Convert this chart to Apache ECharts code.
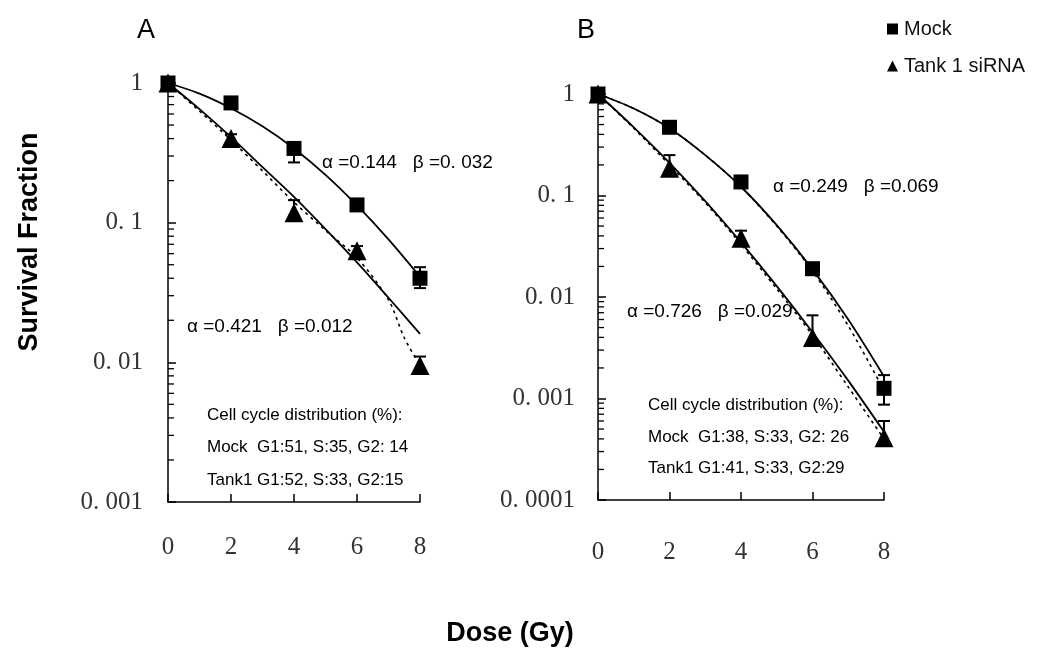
<!DOCTYPE html>
<html>
<head>
<meta charset="utf-8">
<title>Survival Fraction</title>
<script src="https://cdn.jsdelivr.net/npm/echarts@6/dist/echarts.min.js"></script>
<style>
  html, body { margin: 0; padding: 0; background: #fff; }
  #chart { width: 1039px; height: 649px; }
</style>
</head>
<body>
<div id="chart"></div>
<script>
// measured points (dose in Gy, survival fraction)
var doses = [0, 2, 4, 6, 8];
var mockA = [1.0, 0.72, 0.34, 0.134, 0.040];
var tankA = [1.0, 0.40, 0.118, 0.063, 0.0095];
var mockB = [1.0, 0.47, 0.136, 0.019, 0.00126];
var tankB = [1.0, 0.186, 0.038, 0.0040, 0.00041];

// error bars: [dose, low, high]
var mockErrA = [[2, 0.68, 0.76], [4, 0.27, 0.36], [6, 0.125, 0.145], [8, 0.034, 0.048]];
var tankErrA = [[2, 0.37, 0.43], [4, 0.105, 0.145], [6, 0.058, 0.068], [8, 0.009, 0.011]];
var mockErrB = [[4, 0.12, 0.145], [6, 0.017, 0.021], [8, 0.00087, 0.0017]];
var tankErrB = [[2, 0.16, 0.25], [4, 0.033, 0.045], [6, 0.0036, 0.0066], [8, 0.00036, 0.0006]];

// fitted curves
var fitDoses = [0, 1, 2, 3, 4, 5, 6, 7, 8];
var mockFitA = [1, 0.84, 0.66, 0.49, 0.34, 0.22, 0.133, 0.076, 0.041];
var tankFitA = [1, 0.65, 0.41, 0.25, 0.153, 0.09, 0.052, 0.029, 0.016];
var tankDashDosesA = [0, 1, 2, 3, 4, 5, 6, 7, 7.5, 8];
var tankDashA = [1, 0.63, 0.39, 0.235, 0.14, 0.088, 0.056, 0.028, 0.015, 0.0095];
var mockFitB = [1, 0.72, 0.46, 0.25, 0.122, 0.051, 0.0187, 0.006, 0.00165];
var mockDashB = [1, 0.72, 0.46, 0.25, 0.122, 0.05, 0.018, 0.0052, 0.0012];
var tankFitB = [1, 0.47, 0.21, 0.088, 0.0345, 0.0128, 0.0045, 0.0015, 0.00047];
var tankDashB = [1, 0.46, 0.2, 0.085, 0.033, 0.012, 0.0042, 0.0013, 0.0004];

// tick labels
var xTicks = [0, 2, 4, 6, 8];
var yLabelValues = [1, 0.1, 0.01, 0.001, 0.0001];
var yLabelTexts = ['1', '0. 1', '0. 01', '0. 001', '0. 0001'];

var serif = '"Liberation Serif", "DejaVu Serif", serif';
var sans = '"Liberation Sans", Arial, sans-serif';

function pairs(xs, ys) {
  var out = [];
  for (var i = 0; i < xs.length; i++) out.push([xs[i], ys[i]]);
  return out;
}

// log-spaced minor ticks 2..9 in each decade
function minorTicks(lowExp, highExp) {
  var out = [];
  for (var e = lowExp; e < highExp; e++) {
    for (var k = 2; k <= 9; k++) out.push([0, +(k * Math.pow(10, e)).toPrecision(3)]);
  }
  return out;
}

function yLabel(v) {
  for (var i = 0; i < yLabelValues.length; i++) {
    if (Math.abs(Math.log10(v) - Math.log10(yLabelValues[i])) < 1e-6) return yLabelTexts[i];
  }
  return '';
}

function xAxisFor(idx, margin) {
  return {
    type: 'value', gridIndex: idx, min: 0, max: 8, interval: 2,
    axisLine: { lineStyle: { color: '#000', width: 1.5 } },
    axisTick: { inside: true, length: 8, lineStyle: { color: '#000', width: 1.5 } },
    splitLine: { show: false },
    axisLabel: { margin: margin, fontFamily: serif, fontSize: 25, color: '#333',
      formatter: function (v) { return xTicks.indexOf(v) >= 0 ? String(v) : ''; } }
  };
}

function yAxisFor(idx, min, margin) {
  return {
    type: 'log', logBase: 10, gridIndex: idx, min: min, max: 1,
    axisLine: { lineStyle: { color: '#000', width: 1.5 } },
    axisTick: { inside: true, length: 8, lineStyle: { color: '#000', width: 1.5 } },
    splitLine: { show: false },
    axisLabel: { margin: margin, fontFamily: serif, fontSize: 25, color: '#333', formatter: yLabel }
  };
}

function fitLine(idx, xs, ys, dashed) {
  return {
    type: 'line', xAxisIndex: idx, yAxisIndex: idx, data: pairs(xs, ys),
    smooth: 0.3, showSymbol: false, silent: true, z: 2,
    lineStyle: { color: '#000', width: dashed ? 1.6 : 1.8, type: dashed ? [3, 4] : 'solid' }
  };
}

function errorBars(idx, data) {
  return {
    type: 'custom', xAxisIndex: idx, yAxisIndex: idx, data: data, clip: false, silent: true, z: 3,
    renderItem: function (params, api) {
      var lo = api.coord([api.value(0), api.value(1)]);
      var hi = api.coord([api.value(0), api.value(2)]);
      var w = 6;
      var st = { stroke: '#000', lineWidth: 2 };
      return { type: 'group', children: [
        { type: 'line', shape: { x1: lo[0], y1: lo[1], x2: hi[0], y2: hi[1] }, style: st },
        { type: 'line', shape: { x1: lo[0] - w, y1: lo[1], x2: lo[0] + w, y2: lo[1] }, style: st },
        { type: 'line', shape: { x1: hi[0] - w, y1: hi[1], x2: hi[0] + w, y2: hi[1] }, style: st }
      ] };
    }
  };
}

function minorTickSeries(idx, data) {
  return {
    type: 'custom', xAxisIndex: idx, yAxisIndex: idx, data: data, clip: false, silent: true, z: 1,
    renderItem: function (params, api) {
      var p = api.coord([api.value(0), api.value(1)]);
      return { type: 'line', shape: { x1: p[0], y1: p[1], x2: p[0] + 6, y2: p[1] },
        style: { stroke: '#000', lineWidth: 1.3 } };
    }
  };
}

function points(idx, name, ys, symbol, size) {
  return {
    type: 'scatter', name: name, xAxisIndex: idx, yAxisIndex: idx, data: pairs(doses, ys),
    symbol: symbol, symbolSize: size, itemStyle: { color: '#000', opacity: 1 }, z: 5
  };
}

function txt(x, y, text, font, align) {
  return { type: 'text', x: x, y: y, silent: true,
    style: { text: text, font: font, fill: '#000', textAlign: align || 'left', textVerticalAlign: 'middle' } };
}

var chart = echarts.init(document.getElementById('chart'), null, { renderer: 'canvas' });

var option = {
  backgroundColor: '#fff',
  animation: false,
  grid: [
    { left: 168, top: 83, width: 252, height: 419 },
    { left: 598, top: 94, width: 286, height: 406 }
  ],
  xAxis: [xAxisFor(0, 33), xAxisFor(1, 40)],
  yAxis: [yAxisFor(0, 0.001, 25), yAxisFor(1, 0.0001, 23)],
  legend: {
    orient: 'vertical', left: 882, top: 14, itemGap: 17, itemWidth: 11, itemHeight: 11,
    data: [
      { name: 'Mock', icon: 'rect', itemStyle: { color: '#000', opacity: 1 } },
      { name: 'Tank 1 siRNA', icon: 'triangle', itemStyle: { color: '#000', opacity: 1 } }
    ],
    textStyle: { fontFamily: sans, fontSize: 20, color: '#111', padding: [0, 0, 0, 1] }
  },
  series: [
    minorTickSeries(0, minorTicks(-3, 0)),
    minorTickSeries(1, minorTicks(-4, 0)),
    fitLine(0, fitDoses, mockFitA, false),
    fitLine(0, fitDoses, tankFitA, false),
    fitLine(0, tankDashDosesA, tankDashA, true),
    fitLine(1, fitDoses, mockFitB, false),
    fitLine(1, fitDoses, mockDashB, true),
    fitLine(1, fitDoses, tankFitB, false),
    fitLine(1, fitDoses, tankDashB, true),
    errorBars(0, mockErrA),
    errorBars(0, tankErrA),
    errorBars(1, mockErrB),
    errorBars(1, tankErrB),
    points(0, 'Mock', mockA, 'rect', 15),
    points(0, 'Tank 1 siRNA', tankA, 'triangle', 19),
    points(1, 'Mock', mockB, 'rect', 15),
    points(1, 'Tank 1 siRNA', tankB, 'triangle', 19)
  ],
  graphic: [
    txt(137, 31, 'A', '27px ' + sans),
    txt(577, 31, 'B', '27px ' + sans),
    txt(322, 163, 'α =0.144   β =0. 032', '19px ' + sans),
    txt(187, 327, 'α =0.421   β =0.012', '19px ' + sans),
    txt(207, 415, 'Cell cycle distribution (%):', '17px ' + sans),
    txt(207, 447, 'Mock  G1:51, S:35, G2: 14', '17px ' + sans),
    txt(207, 480, 'Tank1 G1:52, S:33, G2:15', '17px ' + sans),
    txt(773, 187, 'α =0.249   β =0.069', '19px ' + sans),
    txt(627, 312, 'α =0.726   β =0.029', '19px ' + sans),
    txt(648, 405, 'Cell cycle distribution (%):', '17px ' + sans),
    txt(648, 437, 'Mock  G1:38, S:33, G2: 26', '17px ' + sans),
    txt(648, 468, 'Tank1 G1:41, S:33, G2:29', '17px ' + sans),
    { type: 'text', x: 30, y: 242, rotation: Math.PI / 2, silent: true,
      style: { text: 'Survival Fraction', font: 'bold 27px ' + sans, fill: '#000',
        textAlign: 'center', textVerticalAlign: 'middle' } },
    txt(510, 634, 'Dose (Gy)', 'bold 27px ' + sans, 'center')
  ]
};

chart.setOption(option);
</script>
</body>
</html>
